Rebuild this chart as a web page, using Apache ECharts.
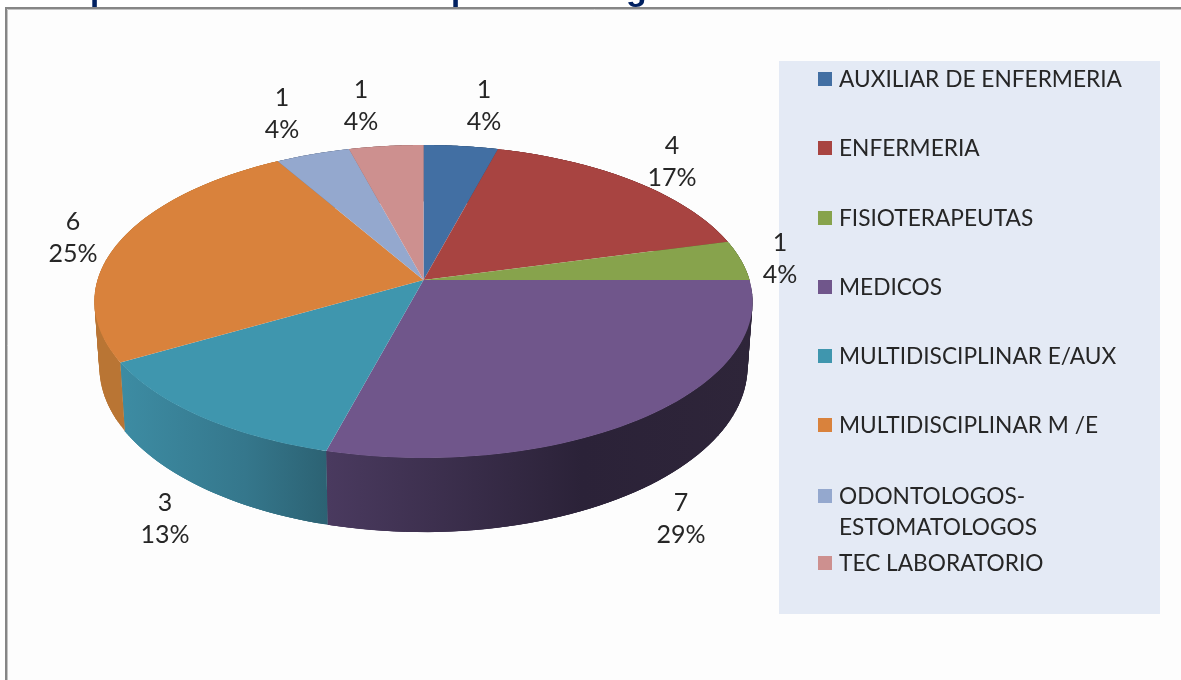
<!DOCTYPE html>
<html>
<head>
    <meta charset="utf-8">
    <title>ECharts</title>
    <script src="https://cdn.jsdelivr.net/npm/echarts@6/dist/echarts.min.js"></script>
    <style>
        html, body { margin: 0; padding: 0; background: #fff; }
    </style>
</head>
<body>
<div id="main" style="width: 1181px; height: 680px;"></div>
<script type="text/javascript">
    // chart values
    var categories = ['AUXILIAR DE ENFERMERIA', 'ENFERMERIA', 'FISIOTERAPEUTAS', 'MEDICOS',
        'MULTIDISCIPLINAR E/AUX', 'MULTIDISCIPLINAR M /E', 'ODONTOLOGOS-\nESTOMATOLOGOS', 'TEC LABORATORIO'];
    var values = [1, 4, 1, 7, 3, 6, 1, 1];

    // colours: top face, then the side wall gradient (left, middle, right)
    var topColors = ['#426fa3', '#a84441', '#87a34c', '#70568b', '#3f96ae', '#d9823c', '#94a8ce', '#cd908f'];
    var wallColors = [
        ['#2f4f74', '#2f4f74', '#2f4f74'], ['#77302f', '#77302f', '#77302f'], ['#607337', '#607337', '#607337'],
        ['#4a3a5f', '#2b2238', '#2e2539'], ['#3d8ca3', '#35778c', '#2c6273'], ['#b97534', '#b97534', '#b97534'],
        ['#677690', '#677690', '#677690'], ['#926766', '#926766', '#926766']
    ];

    // layout of the tilted pie
    var cx = 423.5, cy = 280, radiusX = 326, radiusY = 153.5, tilt = 0.1374, depth = 64, baseScale = 0.985;
    var labelCenters = [[484, 106], [672, 162], [780, 259], [681, 519], [165, 519], [73, 238], [282, 114], [361, 106]];
    var legendRows = [80, 149, 219, 288, 357, 426, 497, 564];

    var total = values.reduce(function (a, b) { return a + b; }, 0);

    // start / end angle of every slice, clockwise from the top
    var slices = new function () {
        var d = [], sum = 0;
        for (var i = 0; i < values.length; i++) {
            d.push([sum / total * Math.PI * 2, (sum + values[i]) / total * Math.PI * 2]);
            sum += values[i];
        }
        return d;
    }();

    function project(angle, bottom) {
        var u = Math.sin(angle), v = -Math.cos(angle);
        var w = 1 - tilt * v;
        if (bottom) {
            return [cx + baseScale * radiusX * u / w, cy + (radiusY * v + depth) / w];
        }
        return [cx + radiusX * u / w, cy + radiusY * v / w];
    }

    function arc(a0, a1, bottom) {
        var pts = [], steps = 60;
        for (var i = 0; i <= steps; i++) {
            pts.push(project(a0 + (a1 - a0) * i / steps, bottom));
        }
        return pts;
    }

    // the wall is built from overlapping quads so the side silhouette gets filled too
    function renderWall(params, api) {
        var i = params.dataIndex, s = slices[i];
        var upper = arc(s[0], s[1], false), lower = arc(s[0], s[1], true);
        var xs = upper.concat(lower).map(function (p) { return p[0]; });
        var fill = {
            type: 'linear', global: true,
            x: Math.min.apply(null, xs), y: 0, x2: Math.max.apply(null, xs), y2: 0,
            colorStops: [
                { offset: 0, color: wallColors[i][0] },
                { offset: 0.6, color: wallColors[i][1] },
                { offset: 1, color: wallColors[i][2] }
            ]
        };
        var quads = [];
        for (var k = 0; k < upper.length - 1; k++) {
            var next = Math.min(k + 3, upper.length - 1);
            quads.push({
                type: 'polygon',
                shape: { points: [upper[k], upper[next], lower[next], lower[k]] },
                style: { fill: fill }
            });
        }
        return { type: 'group', children: quads };
    }

    function renderTop(params, api) {
        var s = slices[params.dataIndex];
        return {
            type: 'polygon',
            shape: { points: [[cx, cy]].concat(arc(s[0], s[1], false)) },
            style: { fill: topColors[params.dataIndex] }
        };
    }

    function renderLabel(params, api) {
        var i = params.dataIndex;
        return {
            type: 'text',
            style: {
                x: labelCenters[i][0], y: labelCenters[i][1],
                text: values[i] + '\n' + Math.round(values[i] / total * 100) + '%',
                align: 'center', verticalAlign: 'middle',
                font: '25px Lato', lineHeight: 32, fill: '#262626'
            }
        };
    }

    function renderLegend(params, api) {
        var i = params.dataIndex, y = legendRows[i];
        return {
            type: 'group',
            children: [
                { type: 'rect', shape: { x: 818, y: y - 8, width: 14, height: 14 }, style: { fill: topColors[i] } },
                {
                    type: 'text',
                    style: {
                        x: 839, y: y - 16, text: categories[i], align: 'left', verticalAlign: 'top',
                        font: '22.7px Lato', lineHeight: 31, fill: '#262626'
                    }
                }
            ]
        };
    }

    var option = {
        animation: false,
        backgroundColor: '#fff',
        graphic: [
            // clipped title: only the descenders show at the top of the picture
            { type: 'text', style: { x: 90, y: -26, text: 'p', font: 'bold 33px "Liberation Sans"', fill: '#002060' } },
            { type: 'text', style: { x: 451, y: -26, text: 'p', font: 'bold 33px "Liberation Sans"', fill: '#002060' } },
            { type: 'text', style: { x: 626, y: -26, text: 'g', font: 'bold 34px "Liberation Sans"', fill: '#002060' } },
            // frame, open on the right and at the bottom
            { type: 'rect', shape: { x: 6, y: 8, width: 1180, height: 680 }, style: { fill: '#fdfdfd', stroke: '#868686', lineWidth: 2 } },
            { type: 'rect', shape: { x: 7.5, y: 9.5, width: 1180, height: 680 }, style: { fill: 'none', stroke: '#c4c4c4', lineWidth: 1 } },
            // legend panel
            { type: 'rect', shape: { x: 779, y: 61, width: 381, height: 553 }, style: { fill: '#e4eaf5' } }
        ],
        series: [
            { type: 'custom', name: 'walls', coordinateSystem: 'none', z: 3, renderItem: renderWall, data: values },
            { type: 'custom', name: 'tops', coordinateSystem: 'none', z: 4, renderItem: renderTop, data: values },
            { type: 'custom', name: 'labels', coordinateSystem: 'none', z: 5, renderItem: renderLabel, data: values },
            { type: 'custom', name: 'legend', coordinateSystem: 'none', z: 5, renderItem: renderLegend, data: categories }
        ]
    };

    var myChart = echarts.init(document.getElementById('main'));
    myChart.setOption(option);
</script>
</body>
</html>
